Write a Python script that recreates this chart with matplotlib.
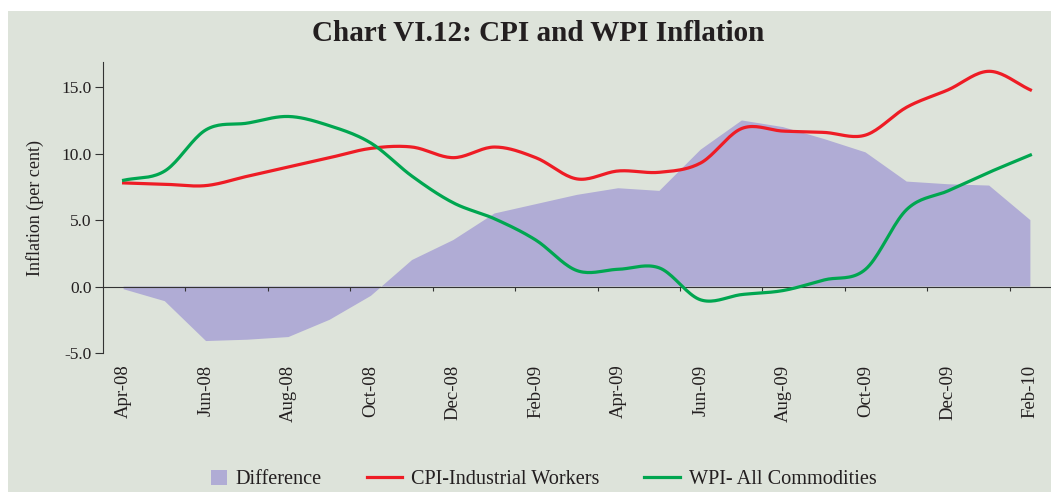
import numpy as np
import matplotlib
matplotlib.use("Agg")
import matplotlib.pyplot as plt
from matplotlib.patches import Rectangle, Patch
from matplotlib.lines import Line2D
from matplotlib.legend_handler import HandlerPatch
import matplotlib.transforms as mtransforms

months = ["Apr-08", "May-08", "Jun-08", "Jul-08", "Aug-08", "Sep-08", "Oct-08",
          "Nov-08", "Dec-08", "Jan-09", "Feb-09", "Mar-09", "Apr-09", "May-09",
          "Jun-09", "Jul-09", "Aug-09", "Sep-09", "Oct-09", "Nov-09", "Dec-09",
          "Jan-10", "Feb-10"]
cpi = [7.8, 7.7, 7.6, 8.3, 9.0, 9.7, 10.4, 10.5, 9.7, 10.5, 9.7, 8.1, 8.7, 8.6,
       9.3, 11.9, 11.7, 11.6, 11.4, 13.5, 14.8, 16.2, 14.8]
wpi = [8.0, 8.7, 11.8, 12.3, 12.8, 12.1, 10.8, 8.3, 6.3, 5.1, 3.5, 1.2, 1.3, 1.4,
       -1.0, -0.6, -0.3, 0.5, 1.3, 5.8, 7.2, 8.6, 9.9]
diff = [-0.2, -1.1, -4.1, -4.0, -3.8, -2.5, -0.7, 2.0, 3.5, 5.5, 6.2, 6.9, 7.4, 7.2,
        10.3, 12.5, 12.0, 11.1, 10.1, 7.9, 7.7, 7.6, 5.0]
yticks = [-5.0, 0.0, 5.0, 10.0, 15.0]

BG = "#dde3da"
RED = "#ee1c25"
GREEN = "#00a650"
LAV = "#b0acd5"
TXT = "#231f20"
SERIF = ["Liberation Serif", "DejaVu Serif"]


def smooth(y, n=20):
    # catmull-rom curve through the points, just for drawing
    y = np.asarray(y, dtype=float)
    p = np.concatenate([[2 * y[0] - y[1]], y, [2 * y[-1] - y[-2]]])
    xs, ys = [], []
    t = np.linspace(0, 1, n, endpoint=False)
    for i in range(len(y) - 1):
        p0, p1, p2, p3 = p[i], p[i + 1], p[i + 2], p[i + 3]
        seg = 0.5 * (2 * p1 + (-p0 + p2) * t + (2 * p0 - 5 * p1 + 4 * p2 - p3) * t ** 2
                     + (-p0 + 3 * p1 - 3 * p2 + p3) * t ** 3)
        xs.extend(i + t)
        ys.extend(seg)
    xs.append(len(y) - 1)
    ys.append(y[-1])
    return np.array(xs), np.array(ys)


def small_square(legend, orig_handle, xdescent, ydescent, width, height, fontsize):
    # narrow swatch sitting at the right end of the handle box
    w = 11
    h = 11
    return Rectangle((width - w - xdescent, (height - h) / 2 - ydescent), w, h)


plt.rcParams["font.family"] = SERIF

fig = plt.figure(figsize=(10.51, 4.92), dpi=100)
fig.patch.set_facecolor("white")
fig.patches.append(Rectangle((8 / 1051, 0), 1, 1 - 11 / 492, transform=fig.transFigure,
                             facecolor=BG, edgecolor="none", zorder=-10))

ax = fig.add_axes([103 / 1051, 1 - 353 / 492, 948 / 1051, (353 - 62) / 492])
ax.set_facecolor(BG)

x = np.arange(len(months))
ax.fill_between(x, 0, diff, facecolor=LAV, edgecolor="none", zorder=1)
xs, ys = smooth(cpi)
ax.plot(xs, ys, color=RED, lw=2.3, zorder=3)
xs, ys = smooth(wpi)
ax.plot(xs, ys, color=GREEN, lw=2.3, zorder=3)

ax.set_xlim(-0.5, len(months) - 0.5)
ax.set_ylim(-5.0, 16.9)

for s in ["top", "right"]:
    ax.spines[s].set_visible(False)
ax.spines["bottom"].set_position(("data", 0))
ax.spines["bottom"].set_color("#333333")
ax.spines["left"].set_color("#333333")
ax.spines["bottom"].set_zorder(2)

ax.set_yticks(yticks)
ax.set_yticklabels([f"{v:.1f}" for v in yticks], fontsize=12.5, color=TXT)
ax.tick_params(axis="y", direction="out", length=6, color="#333333", pad=2)

ax.set_xticks(np.arange(1.5, len(months) - 0.5, 2))
ax.set_xticklabels([])
ax.tick_params(axis="x", direction="out", length=3, color="#333333")

trans = mtransforms.blended_transform_factory(ax.transData, ax.transAxes)
for i in range(0, len(months), 2):
    ax.text(i, -0.04, months[i], rotation=90, ha="center", va="top",
            fontsize=13.5, color=TXT, transform=trans)

ax.set_ylabel("Inflation (per cent)", fontsize=13, color=TXT, labelpad=13)

fig.text(0.512, 1 - 33 / 492, "Chart VI.12: CPI and WPI Inflation", ha="center", va="center",
         fontsize=21, fontweight="bold", color=TXT)

handles = [Patch(facecolor=LAV, edgecolor="none"),
           Line2D([], [], color=RED, lw=2.3),
           Line2D([], [], color=GREEN, lw=2.3)]
labels = ["Difference", "CPI-Industrial Workers", "WPI- All Commodities"]
fig.legend(handles, labels, loc="center", bbox_to_anchor=(0.508, 1 - 479 / 492), ncol=3,
           frameon=False, fontsize=14.6, handlelength=1.75, handleheight=0.9,
           columnspacing=2.2, handletextpad=0.45, labelcolor=TXT,
           handler_map={Patch: HandlerPatch(patch_func=small_square)})

fig.savefig("out.png", dpi=100, facecolor="white")
